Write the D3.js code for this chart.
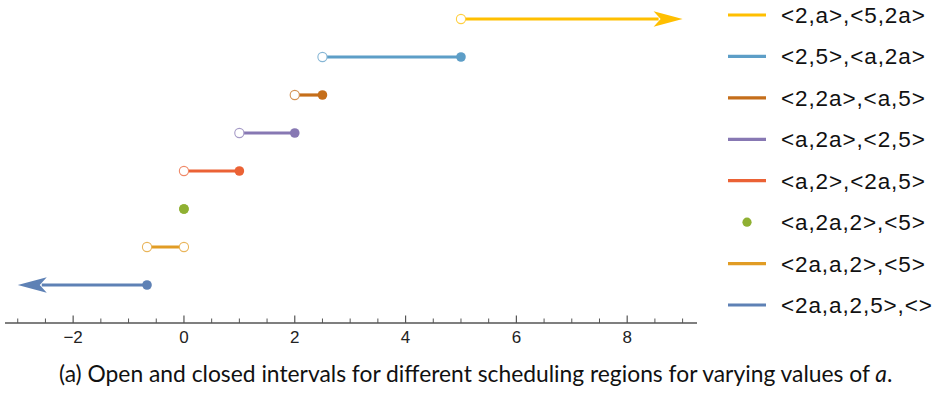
<!DOCTYPE html>
<html>
<head>
<meta charset="utf-8">
<script src="https://cdn.jsdelivr.net/npm/d3@7/dist/d3.min.js"></script>
<style>
  html, body { margin: 0; padding: 0; background: #fff; }
  svg { display: block; }
</style>
</head>
<body>
<svg id="chart" width="939" height="396"></svg>
<script>
// Scheduling regions, top row first
const regions = ["<2,a>,<5,2a>", "<2,5>,<a,2a>", "<2,2a>,<a,5>", "<a,2a>,<2,5>",
                 "<a,2>,<2a,5>", "<a,2a,2>,<5>", "<2a,a,2>,<5>", "<2a,a,2,5>,<>"];
const colors = ["#FFBF00", "#5D9EC7", "#C56E1A", "#8778B3",
                "#EB6235", "#8FB032", "#E19C24", "#5E81B5"];
// Interval bounds in a, and how each end is drawn
const lowerBound = [5, 2.5, 2, 1, 0, 0, -2/3, -3];
const upperBound = [9, 5, 2.5, 2, 1, 0, 0, -2/3];
const lowerKind  = ["open", "open", "open", "open", "open", "closed", "open", "arrow"];
const upperKind  = ["arrow", "closed", "closed", "closed", "closed", "closed", "open", "closed"];
const majorTicks = [-2, 0, 2, 4, 6, 8];
const minorTicks = d3.range(-3, 9.01, 0.5);

const svg = d3.select("#chart");
const x = d3.scaleLinear().domain([-3.23, 9.26]).range([5, 697]);
const y = d3.scalePoint().domain(regions).range([19, 285]);
const axisY = 323;

// Axis
const axisG = svg.append("g").attr("transform", `translate(0,${axisY})`);
axisG.append("line").attr("x1", x.range()[0]).attr("x2", x.range()[1])
  .attr("stroke", "#555").attr("stroke-width", 1.3);
axisG.selectAll("line.minor").data(minorTicks.filter(t => !majorTicks.includes(t)))
  .join("line").attr("class", "minor")
  .attr("x1", d => x(d)).attr("x2", d => x(d)).attr("y1", 0).attr("y2", -4.5)
  .attr("stroke", "#555").attr("stroke-width", 1);
axisG.selectAll("line.major").data(majorTicks)
  .join("line").attr("class", "major")
  .attr("x1", d => x(d)).attr("x2", d => x(d)).attr("y1", 0).attr("y2", -7.5)
  .attr("stroke", "#555").attr("stroke-width", 1.2);
axisG.selectAll("text").data(majorTicks).join("text")
  .attr("x", d => x(d)).attr("y", 19.5)
  .attr("text-anchor", "middle")
  .attr("font-family", "'Liberation Sans', Arial, sans-serif")
  .attr("font-size", 17).attr("fill", "#222")
  .text(d => d < 0 ? "\u2212" + Math.abs(d) : String(d));

// Arrowhead pointing in direction dir (+1 right, -1 left), tip at (tx, ty)
function arrowPath(tx, ty, dir) {
  const len = 29, half = 7.8, notch = 22;
  return `M${tx},${ty} L${tx - dir * len},${ty - half} L${tx - dir * notch},${ty} L${tx - dir * len},${ty + half} Z`;
}

const rows = svg.append("g").selectAll("g").data(regions).join("g");
rows.each(function(name, i) {
  const g = d3.select(this);
  const cy = y(name), c = colors[i];
  const x0 = x(lowerBound[i]), x1 = x(upperBound[i]);
  if (x0 !== x1) {
    const s0 = lowerKind[i] === "arrow" ? x0 + 24 : x0;
    const s1 = upperKind[i] === "arrow" ? x1 - 24 : x1;
    g.append("line").attr("x1", s0).attr("x2", s1).attr("y1", cy).attr("y2", cy)
      .attr("stroke", c).attr("stroke-width", 3.2);
  }
  [[x0, lowerKind[i], -1], [x1, upperKind[i], 1]].forEach(([px, kind, dir]) => {
    if (kind === "arrow") {
      g.append("path").attr("d", arrowPath(px, cy, dir)).attr("fill", c);
    } else if (kind === "open") {
      g.append("circle").attr("cx", px).attr("cy", cy).attr("r", 4.6)
        .attr("fill", "#fff").attr("stroke", d3.interpolateRgb(c, "#fff")(0.25))
        .attr("stroke-width", 1.1);
    } else {
      g.append("circle").attr("cx", px).attr("cy", cy).attr("r", 4.8).attr("fill", c);
    }
  });
});

// Legend
const legY = d3.scalePoint().domain(regions).range([15, 305]);
const leg = svg.append("g").selectAll("g").data(regions).join("g")
  .attr("transform", d => `translate(0,${legY(d)})`);
leg.each(function(name, i) {
  const g = d3.select(this);
  if (lowerBound[i] === upperBound[i]) {
    g.append("circle").attr("cx", 747).attr("cy", 0).attr("r", 4.6).attr("fill", colors[i]);
  } else {
    g.append("line").attr("x1", 728).attr("x2", 766).attr("y1", 0).attr("y2", 0)
      .attr("stroke", colors[i]).attr("stroke-width", 3.2);
  }
  g.append("text").attr("x", 781).attr("y", 8)
    .attr("font-family", "'Liberation Sans', Arial, sans-serif")
    .attr("font-size", 22.5).attr("letter-spacing", 0.9).attr("fill", "#111")
    .text(name);
});

// Caption
const cap = svg.append("text").attr("x", 59).attr("y", 382)
  .attr("font-family", "Lato, 'Open Sans', sans-serif")
  .attr("font-size", 20).attr("fill", "#111");
cap.append("tspan").text("(a) Open and closed intervals for different scheduling regions for varying values of ");
cap.append("tspan").attr("font-style", "italic").text("a");
cap.append("tspan").text(".");
const w = cap.node().getComputedTextLength();
cap.attr("font-size", 20 * 834 / w);
</script>
</body>
</html>
